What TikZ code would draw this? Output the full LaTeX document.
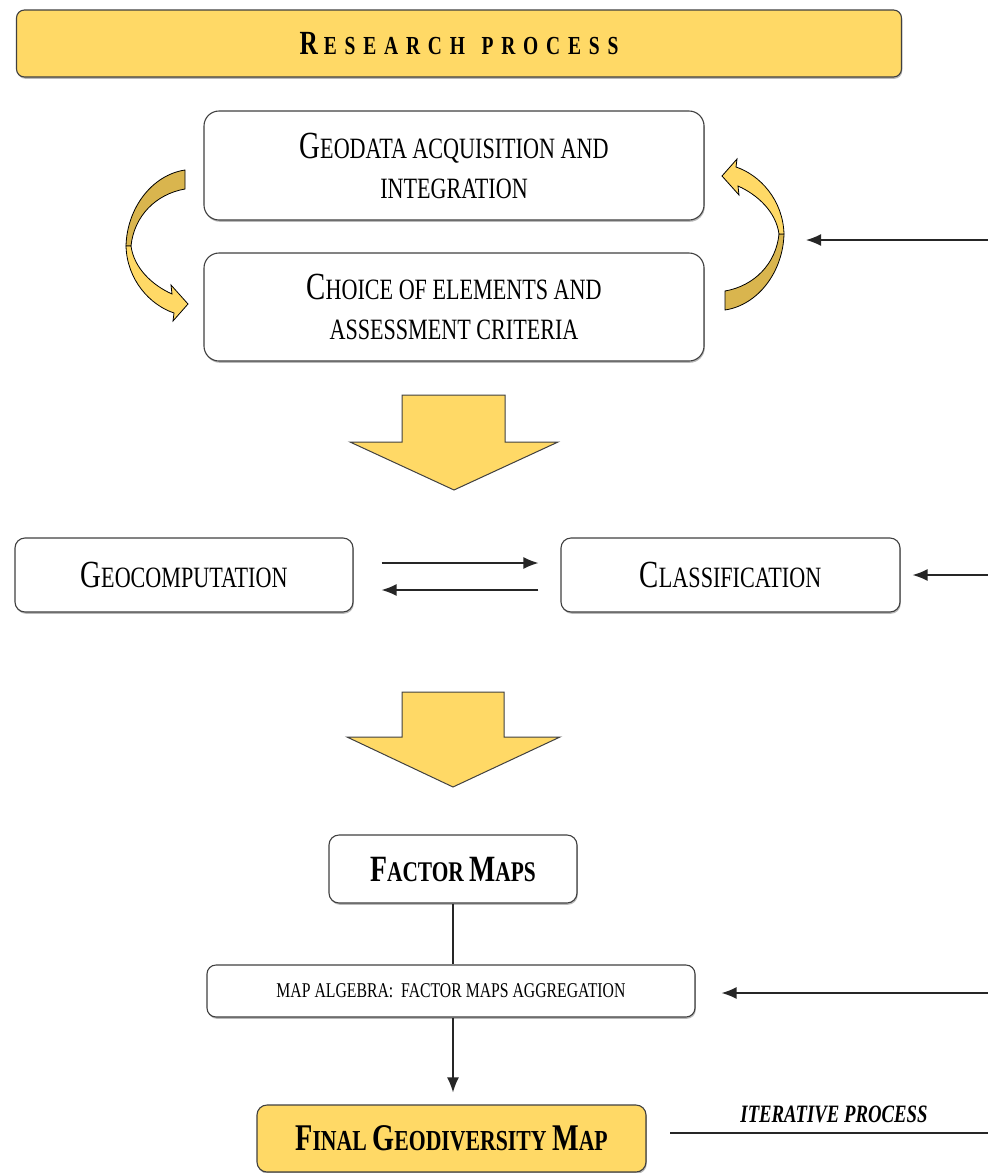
\documentclass[tikz,border=0pt]{standalone}
\usepackage{graphicx}
\usepackage{fontspec}
\setmainfont{Liberation Serif}[FakeStretch=0.75]
\usetikzlibrary{arrows.meta,shadows,calc}

\definecolor{gold}{HTML}{FFD966}
\definecolor{golddark}{HTML}{D9B54E}
\definecolor{edge}{HTML}{404040}

% enlarged initial capital for the small-caps style labels
\newcommand\bc[1]{\scalebox{1.3}{#1}}

\tikzset{
  box/.style={draw=edge, line width=1.1pt, rounded corners=12pt, fill=white,
    align=center, inner sep=0pt,
    drop shadow={shadow xshift=0.8pt, shadow yshift=-1.8pt, fill=black!50, opacity=0.55}},
  goldbox/.style={box, fill=gold},
  lbl/.style={font=\fontsize{29.5}{40}\selectfont},
  conn/.style={draw=black!85, line width=1.5pt, -{Latex[length=15pt,width=12pt]}},
  plainline/.style={draw=black!85, line width=1.5pt},
  blockarrow/.style={fill=gold, draw=edge, line width=1pt, line join=miter},
  twistdark/.style={fill=golddark, draw=black, line width=0.8pt},
  twistlight/.style={fill=gold, draw=black, line width=0.8pt},
}

\begin{document}
\begin{tikzpicture}[x=1pt, y=-1pt]
  \useasboundingbox (0,0) rectangle (988,1173);

  % heading
  \node[goldbox, rounded corners=8pt, minimum width=885pt, minimum height=67pt,
        font=\bfseries\fontsize{26}{26}\selectfont\addfontfeature{LetterSpace=30}]
        (title) at (459,43.5) {\bc{R}\kern6pt ESEARCH\kern4pt{} PROCESS};

  % first stage
  \node[box, lbl, rounded corners=15pt, minimum width=500pt, minimum height=109pt]
        (geo) at (454,165.5) {\bc{G}EODATA ACQUISITION AND\\INTEGRATION};
  \node[box, lbl, rounded corners=15pt, minimum width=500pt, minimum height=108pt]
        (cho) at (454,307) {\bc{C}HOICE OF ELEMENTS AND\\ASSESSMENT CRITERIA};

  % twisted loop arrows between the two first-stage boxes
  \begin{scope}
    \path[twistdark] (185,170) .. controls (152,175) and (127,208) .. (126,246)
      -- (131,246) .. controls (134,216) and (156,194) .. (185,189) -- cycle;
    \path[twistlight] (126,246) .. controls (127,280) and (150,305) .. (174,313)
      -- (173,321) -- (188,304) -- (171,285) -- (172,294)
      .. controls (152,285) and (134,268) .. (131,246) -- cycle;
  \end{scope}
  \begin{scope}[rotate around={180:(455,240)}]
    \path[twistdark] (185,170) .. controls (152,175) and (127,208) .. (126,246)
      -- (131,246) .. controls (134,216) and (156,194) .. (185,189) -- cycle;
    \path[twistlight] (126,246) .. controls (127,280) and (150,305) .. (174,313)
      -- (173,321) -- (188,304) -- (171,285) -- (172,294)
      .. controls (152,285) and (134,268) .. (131,246) -- cycle;
  \end{scope}

  % block arrows
  \path[blockarrow] (402,395) -- (505,395) -- (505,442) -- (558,442) -- (454,490)
    -- (350,442) -- (402,442) -- cycle;
  \path[blockarrow] (402,692) -- (504,692) -- (504,737) -- (560,737) -- (453,787)
    -- (347,737) -- (402,737) -- cycle;

  % second stage
  \node[box, lbl, rounded corners=10pt, minimum width=338pt, minimum height=74pt]
        (gc) at (184,575) {\bc{G}EOCOMPUTATION};
  \node[box, lbl, rounded corners=10pt, minimum width=339pt, minimum height=74pt]
        (cl) at (730.5,575) {\bc{C}LASSIFICATION};

  \draw[conn] ([xshift=28pt,yshift=12pt]gc.east) -- ([xshift=-22pt,yshift=12pt]cl.west);
  \draw[conn] ([xshift=-22pt,yshift=-15pt]cl.west) -- ([xshift=28pt,yshift=-15pt]gc.east);

  % third stage
  \node[box, rounded corners=10pt, minimum width=248pt, minimum height=68pt,
        font=\bfseries\fontsize{28.5}{28.5}\selectfont]
        (fm) at (453,869) {\bc{F}ACTOR \bc{M}APS};
  \node[box, rounded corners=9pt, minimum width=488pt, minimum height=52pt,
        font=\fontsize{21}{21}\selectfont]
        (ma) at (451,991) {MAP ALGEBRA:\ \ FACTOR MAPS AGGREGATION};
  \node[goldbox, rounded corners=10pt, minimum width=389pt, minimum height=67pt,
        font=\bfseries\fontsize{29}{29}\selectfont]
        (fin) at (451.5,1138.5) {\bc{F}INAL \bc{G}EODIVERSITY \bc{M}AP};

  \draw[plainline] (fm.south) -- (fm.south |- ma.north);
  \draw[conn, shorten >=12pt] (fm.south |- ma.south) -- (fm.south |- fin.north);

  % feedback lines entering from the right
  \coordinate (r1) at (988,240);
  \coordinate (r1tip) at (806,240);
  \coordinate (r2) at (988,575);
  \coordinate (r3) at (988,993);
  \coordinate (r4) at (988,1133);

  \draw[conn] (r1) -- (r1tip);
  \draw[conn, shorten >=12pt] (r2) -- (cl.east);
  \draw[conn, shorten >=26pt] (r3) -- (r3 -| ma.east);
  \draw[plainline] (r4) -- ($(fin.east |- r4)+(23,0)$);

  \node[font=\bfseries\itshape\fontsize{25}{25}\selectfont] (itl) at (834,1114)
        {ITERATIVE PROCESS};
\end{tikzpicture}
\end{document}
